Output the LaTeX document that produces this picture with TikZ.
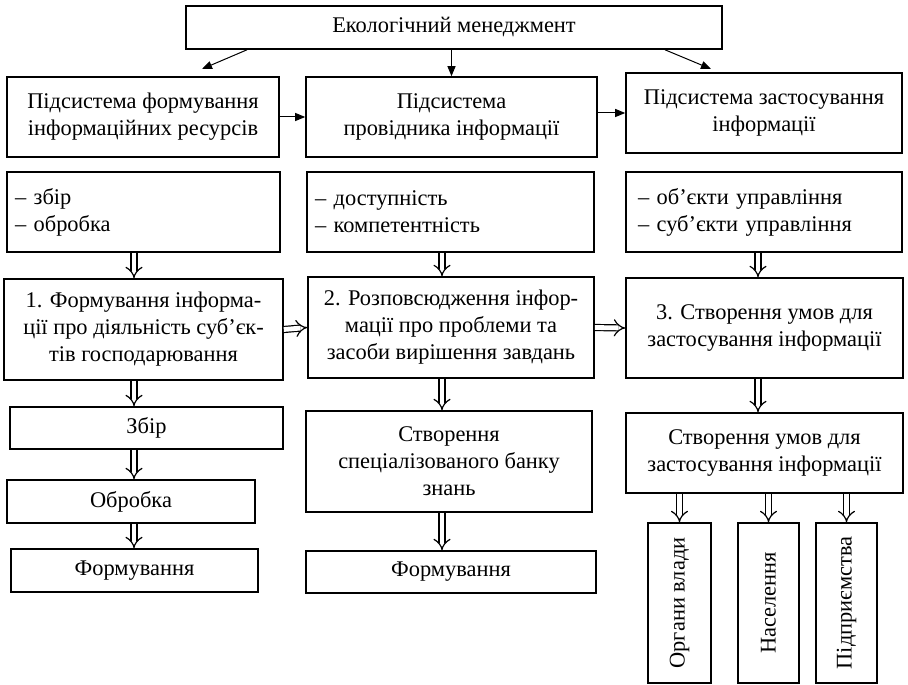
\documentclass[tikz,border=0pt]{standalone}
\usepackage{fontspec}
\setmainfont{Liberation Serif}
\usetikzlibrary{arrows.meta}

\begin{document}
\begin{tikzpicture}[
    x=0.5pt, y=-0.5pt,
    block/.style={rectangle,draw=black,line width=0.8pt,align=center,inner sep=2pt,
        font=\fontsize{11.2pt}{13.5pt}\selectfont},
    listbox/.style={block,align=left,inner xsep=4pt,minimum height=40pt},
    vbox/.style={block,rotate=90,minimum width=80pt},
    arr/.style={-{Triangle[length=5pt,width=4pt]},line width=0.5pt},
    dbl/.style={double,double distance=2.4pt,line width=0.6pt,-{Implies}},
]
    \useasboundingbox (0,0) rectangle (908,684);

    \node[block,minimum width=268pt,minimum height=21.5pt] (top) at (454,27.5) {Екологічний менеджмент};

    % subsystems
    \node[block,minimum width=136pt,minimum height=40pt] (a1) at (143,117)
        {Підсистема формування\\інформаційних ресурсів};
    \node[block,minimum width=145.5pt,minimum height=40pt] (a2) at (451.5,117)
        {Підсистема\\провідника інформації};
    \node[block,minimum width=138pt,minimum height=40pt] (a3) at (764,113)
        {Підсистема застосування\\інформації};

    \node[listbox,text width=128.5pt] (b1) at (143.5,212) {– збір\\– обробка};
    \node[listbox,text width=135.5pt] (b2) at (450.5,212) {– доступність\\– компетентність};
    \node[listbox,inner xsep=6pt,text width=126pt] (b3) at (764,212)
        {– об’єкти управління\\– суб’єкти управління};

    \node[block,minimum width=139.5pt,minimum height=50.5pt] (c1) at (143.5,329.5)
        {1. Формування інформа-\\ції про діяльність суб’єк-\\тів господарювання};
    \node[block,minimum width=143pt,minimum height=50.5pt] (c2) at (451,327.5)
        {2. Розповсюдження інфор-\\мації про проблеми та\\засоби вирішення завдань};
    \node[block,minimum width=138.5pt,minimum height=50pt] (c3) at (764.5,328)
        {3. Створення умов для\\застосування інформації};

    % left column
    \node[block,minimum width=136.5pt,minimum height=21pt] (d1) at (146.5,428) {Збір};
    \node[block,minimum width=124pt,minimum height=21.5pt] (e1) at (131,501.5) {Обробка};
    \node[block,minimum width=123.5pt,minimum height=21.5pt] (f1) at (134.5,570.5) {Формування};

    % middle column
    \node[block,minimum width=143pt,minimum height=50.5pt] (d2) at (449,461.5)
        {Створення\\спеціалізованого банку\\знань};
    \node[block,minimum width=145pt,minimum height=21pt] (e2) at (451,572) {Формування};

    % right column
    \node[block,minimum width=138.5pt,minimum height=40pt] (d3) at (764.5,453)
        {Створення умов для\\застосування інформації};
    \node[vbox,minimum height=31.5pt] (g1) at (679.5,603) {Органи влади};
    \node[vbox,minimum height=30.5pt] (g2) at (768.5,603) {Населення};
    \node[vbox,minimum height=30.5pt] (g3) at (846.5,603) {Підприємства};

    \coordinate (xl) at (247,0);
    \coordinate (xr) at (665,0);
    \coordinate (l1) at (202,69);
    \coordinate (r1) at (711,69);
    \coordinate (x1) at (134,0);
    \coordinate (x2) at (442,0);
    \coordinate (x3) at (758,0);

    \draw[arr] (top.south -| xl) -- (l1);
    \draw[arr] (top.south -| a2.north) -- (a2.north);
    \draw[arr] (top.south -| xr) -- (r1);
    \draw[arr] (a1.east) -- (a2.west);
    \draw[arr] (a2.east |- a3.west) -- (a3.west);

    \draw[dbl] (b1.south -| x1) -- (c1.north -| x1);
    \draw[dbl] (c1.south -| x1) -- (d1.north -| x1);
    \draw[dbl] (d1.south -| x1) -- (e1.north -| x1);
    \draw[dbl] (e1.south -| x1) -- (f1.north -| x1);
    \draw[dbl] (b2.south -| x2) -- (c2.north -| x2);
    \draw[dbl] (c2.south -| x2) -- (d2.north -| x2);
    \draw[dbl] (d2.south -| x2) -- (e2.north -| x2);
    \draw[dbl] (b3.south -| x3) -- (c3.north -| x3);
    \draw[dbl] (c3.south -| x3) -- (d3.north -| x3);
    \draw[dbl] (c1.east) -- (c2.west);
    \draw[dbl] (c2.east) -- (c3.west);
    \foreach \g in {g1,g2,g3}
        \draw[dbl] (d3.south -| \g.east) -- (\g.east);
\end{tikzpicture}
\end{document}
